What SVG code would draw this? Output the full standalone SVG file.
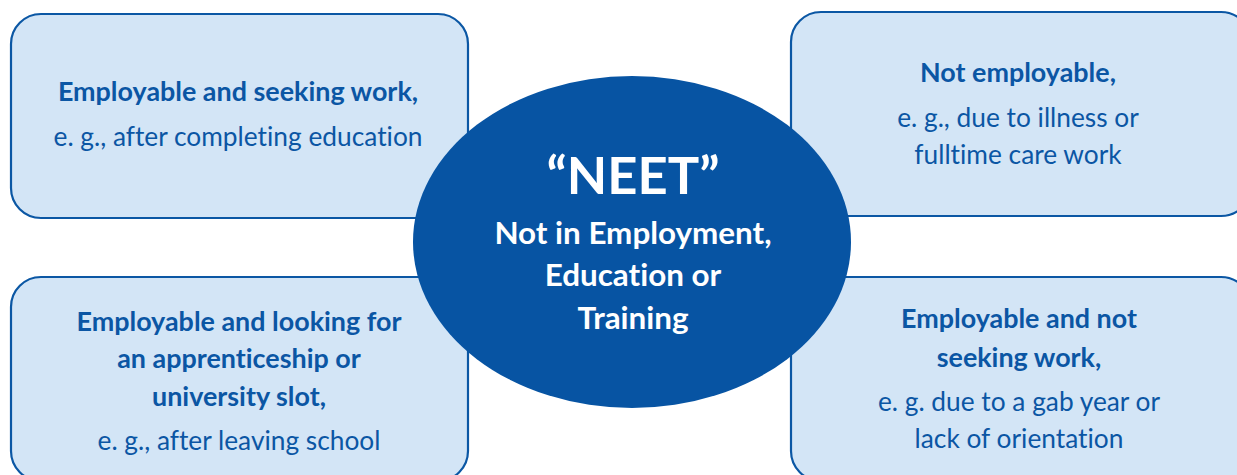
<svg xmlns="http://www.w3.org/2000/svg" width="1237" height="475" viewBox="0 0 1237 475">
  <style>
    .box { fill: #d3e5f6; stroke: #0b57a4; stroke-width: 2.2; }
    .hub { fill: #0754a3; }
    text { font-family: Lato, "Open Sans", "Liberation Sans", sans-serif; text-anchor: middle; font-variant-ligatures: none; }
    .head { font-weight: 700; font-size: 26.9px; fill: #0b56a4; }
    .note { font-weight: 400; font-size: 26.3px; fill: #0b56a4; }
    .title { font-weight: 700; font-size: 52.5px; fill: #ffffff; }
    .sub { font-weight: 700; font-size: 31.4px; fill: #ffffff; }
  </style>
  <rect width="1237" height="475" fill="#ffffff"/>
  <g id="connectors"></g>

  <g id="seeking-work">
    <rect class="box" x="11" y="14" width="457" height="204" rx="30"/>
    <text class="head" x="238" y="101">Employable and seeking work,</text>
    <text class="note" x="238" y="146">e. g., after completing education</text>
  </g>

  <g id="not-employable">
    <rect class="box" x="791" y="12" width="460" height="204" rx="30"/>
    <text class="head" x="1018" y="82">Not employable,</text>
    <text class="note" x="1018" y="127">e. g., due to illness or</text>
    <text class="note" x="1018" y="164">fulltime care work</text>
  </g>

  <g id="looking-apprenticeship">
    <rect class="box" x="11" y="277" width="457" height="204" rx="30"/>
    <text class="head" x="239" y="331">Employable and looking for</text>
    <text class="head" x="239" y="368">an apprenticeship or</text>
    <text class="head" x="239" y="406">university slot,</text>
    <text class="note" x="239" y="450">e. g., after leaving school</text>
  </g>

  <g id="not-seeking-work">
    <rect class="box" x="791" y="277" width="460" height="204" rx="30"/>
    <text class="head" x="1019" y="328">Employable and not</text>
    <text class="head" x="1019" y="367">seeking work,</text>
    <text class="note" x="1019" y="411">e. g. due to a gab year or</text>
    <text class="note" x="1019" y="448">lack of orientation</text>
  </g>

  <g id="neet">
    <ellipse class="hub" cx="632" cy="242" rx="219" ry="166"/>
    <text class="title" x="633" y="194">“NEET”</text>
    <text class="sub" x="633" y="244">Not in Employment,</text>
    <text class="sub" x="633" y="286">Education or</text>
    <text class="sub" x="633" y="329">Training</text>
  </g>
</svg>
